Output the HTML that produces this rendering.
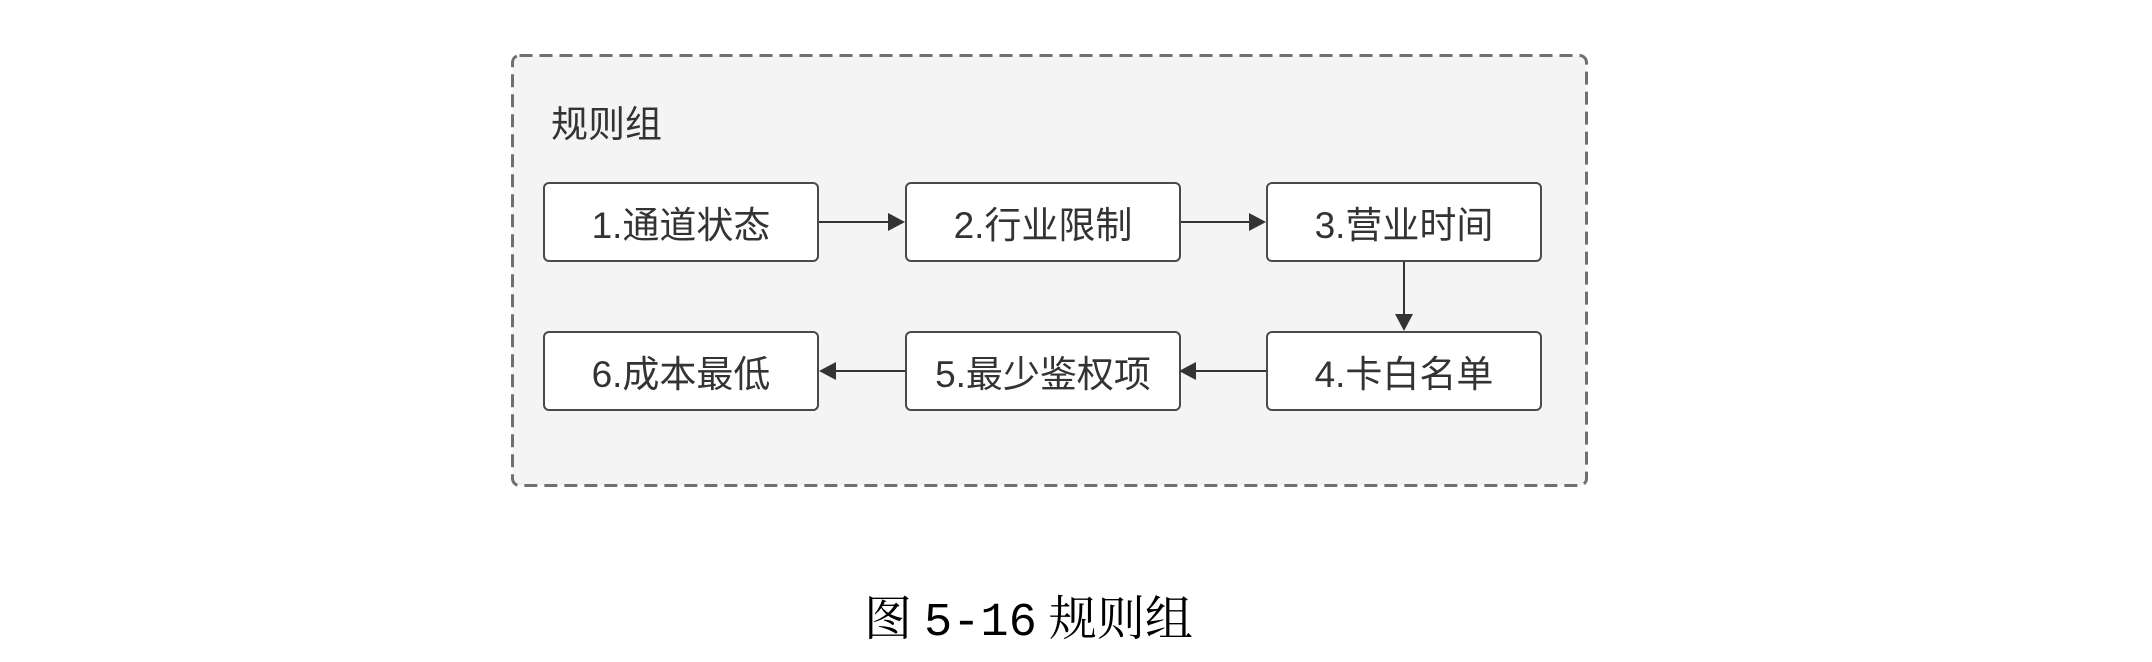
<!DOCTYPE html>
<html><head><meta charset="utf-8">
<style>
html,body{margin:0;padding:0;background:#fff;}
body{width:2152px;height:662px;position:relative;overflow:hidden;font-family:"Liberation Sans","Noto Sans CJK SC",sans-serif;}
.ttl{position:absolute;left:551px;top:94px;font-size:37px;color:#333;}
.n{position:absolute;width:276px;height:80px;background:#fff;border:2px solid #4a4a4a;border-radius:6px;box-sizing:border-box;display:flex;align-items:center;justify-content:center;font-size:37px;color:#333;}
.cap{position:absolute;left:864px;top:580px;font-family:"Liberation Serif","Noto Serif CJK SC",serif;font-size:48px;color:#000;white-space:pre;}
.cap .m{font-family:"Liberation Mono",monospace;font-size:47px;}
svg{position:absolute;left:0;top:0;}
</style></head><body>
<svg width="2152" height="662">
<rect x="512.5" y="55.5" width="1074" height="430" rx="7" fill="#f4f4f4" stroke="#707070" stroke-width="3" stroke-dasharray="13,7"/>
</svg>
<div class="ttl">规则组</div>
<div class="n" style="left:543px;top:182px">1.通道状态</div>
<div class="n" style="left:905px;top:182px">2.行业限制</div>
<div class="n" style="left:1266px;top:182px">3.营业时间</div>
<div class="n" style="left:543px;top:331px">6.成本最低</div>
<div class="n" style="left:905px;top:331px">5.最少鉴权项</div>
<div class="n" style="left:1266px;top:331px">4.卡白名单</div>
<svg width="2152" height="662">
<g stroke="#333" stroke-width="2" fill="#333">
<line x1="819" y1="222" x2="890" y2="222"/><polygon points="905,222 888,213 888,231" stroke="none"/>
<line x1="1181" y1="222" x2="1251" y2="222"/><polygon points="1266,222 1249,213 1249,231" stroke="none"/>
<line x1="1404" y1="262" x2="1404" y2="316"/><polygon points="1404,331 1395,314 1413,314" stroke="none"/>
<line x1="1266" y1="371" x2="1194" y2="371"/><polygon points="1179,371 1196,362 1196,380" stroke="none"/>
<line x1="905" y1="371" x2="834" y2="371"/><polygon points="819,371 836,362 836,380" stroke="none"/>
</g>
</svg>
<div class="cap">图 <span class="m">5-16</span> 规则组</div>
</body></html>
